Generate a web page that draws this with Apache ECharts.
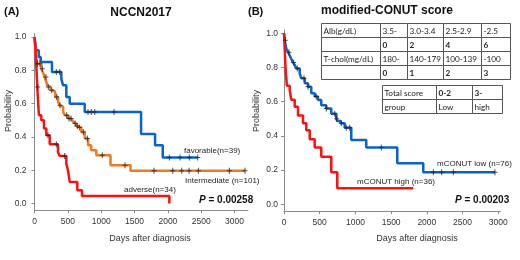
<!DOCTYPE html>
<html><head><meta charset="utf-8">
<script src="https://cdn.jsdelivr.net/npm/echarts@6/dist/echarts.min.js"></script>
<style>html,body{margin:0;padding:0;background:#fff}#c{width:520px;height:260px}</style>
</head><body><div id="c"></div>
<script>
// ---------- data ----------
const xTicksA = [0, 500, 1000, 1500, 2000, 2500, 3000];
const xTicksB = [0, 500, 1000, 1500, 2000, 2500, 3000];
const yTicks = [0, 0.2, 0.4, 0.6, 0.8, 1.0];

// Panel A: NCCN2017
const favDays = [0, 27, 63, 93, 262, 402, 428, 477, 528, 753, 1598, 1808, 1923, 2448];
const favSurv = [1.0, 0.92, 0.88, 0.85, 0.79, 0.75, 0.71, 0.64, 0.60, 0.55, 0.417, 0.35, 0.277, 0.277];
const favCens = [327, 378, 802, 852, 903, 1193, 2022, 2183, 2322, 2448];

const intDays = [0, 8, 15, 25, 37, 100, 128, 150, 177, 190, 203, 240, 278, 310, 353, 380, 402, 430, 453, 500, 552, 580, 603, 627, 653, 702, 753, 803, 850, 927, 1140, 1440, 3157];
const intSurv = [1.0, 0.96, 0.92, 0.88, 0.84, 0.81, 0.786, 0.76, 0.73, 0.71, 0.70, 0.68, 0.67, 0.64, 0.61, 0.59, 0.58, 0.55, 0.53, 0.51, 0.50, 0.49, 0.48, 0.465, 0.457, 0.43, 0.39, 0.35, 0.32, 0.29, 0.23, 0.197, 0.197];
const intCens = [42, 82, 117, 172, 207, 258, 333, 382, 483, 518, 547, 608, 642, 672, 732, 792, 1017, 1357, 1792, 2073, 2208, 2318, 2457, 2922, 3157];

const advDays = [0, 12, 20, 28, 35, 42, 50, 58, 67, 102, 142, 177, 228, 352, 378, 477, 502, 528, 642, 712, 2022];
const advSurv = [1.0, 0.94, 0.88, 0.82, 0.76, 0.70, 0.64, 0.58, 0.53, 0.50, 0.45, 0.41, 0.356, 0.31, 0.285, 0.24, 0.20, 0.13, 0.08, 0.045, 0.0];
const advCens = [48, 202, 327, 453];

// Panel B: modified-CONUT
const lowDays = [0, 10, 32, 56, 80, 102, 126, 150, 172, 220, 242, 290, 336, 382, 430, 476, 522, 592, 662, 732, 746, 794, 850, 942, 1152, 1586, 1950, 2954];
const lowSurv = [1.0, 0.96, 0.91, 0.89, 0.87, 0.85, 0.83, 0.815, 0.795, 0.766, 0.737, 0.708, 0.688, 0.649, 0.63, 0.61, 0.58, 0.56, 0.53, 0.50, 0.487, 0.474, 0.448, 0.376, 0.333, 0.24, 0.187, 0.187];
const lowCens = [19, 70, 135, 186, 280, 336, 452, 592, 710, 738, 802, 872, 920, 1362, 2091, 2208, 2371, 2954];

const highDays = [0, 3, 6, 9, 12, 15, 18, 21, 25, 30, 35, 40, 80, 102, 150, 196, 266, 312, 360, 430, 522, 662, 746, 1810];
const highSurv = [1.0, 0.972, 0.944, 0.917, 0.889, 0.861, 0.833, 0.806, 0.778, 0.75, 0.722, 0.694, 0.667, 0.611, 0.57, 0.52, 0.474, 0.434, 0.38, 0.333, 0.278, 0.187, 0.094, 0.094];

// Table content
const table1Rows = [
  ["Alb(g/dL)", "3.5-", "3.0-3.4", "2.5-2.9", "-2.5"],
  ["", "0", "2", "4", "6"],
  ["T-chol(mg/dL)", "180-", "140-179", "100-139", "-100"],
  ["", "0", "1", "2", "3"]
];
const table2Rows = [
  ["Total score", "0-2", "3-"],
  ["group", "Low", "high"]
];

// ---------- chart ----------
const FONT = "'Liberation Sans', Arial, sans-serif";
const TFONT = "Lato, 'Open Sans', sans-serif";
const BLUE = '#0A64C8', ORANGE = '#EE7A22', RED = '#FF1010';

function toPairs(d, s) { return d.map((x, i) => [x, s[i]]); }
function survAt(d, s, t) { let p = s[0]; for (let i = 0; i < d.length; i++) { if (d[i] <= t) p = s[i]; } return p; }
function censPairs(d, s, c) { return c.map(t => [t, survAt(d, s, t)]); }

const plus = 'path://M-0.5,-3L0.5,-3L0.5,-0.5L2.5,-0.5L2.5,0.5L0.5,0.5L0.5,3L-0.5,3L-0.5,0.5L-2.5,0.5L-2.5,-0.5L-0.5,-0.5Z';

function xAxis(gi, max, ticks) {
  return {
    type: 'value', gridIndex: gi, min: 0, max: max,
    axisLine: { onZero: false, lineStyle: { color: '#8a8a8a', width: 1 } },
    axisTick: { customValues: ticks, length: 3, lineStyle: { color: '#8a8a8a' } },
    axisLabel: { customValues: ticks, fontSize: 8.5, color: '#333', margin: 7, fontFamily: FONT,
      formatter: v => String(Math.round(v)) },
    splitLine: { show: false }
  };
}
function yAxis(gi, margin) {
  return {
    type: 'value', gridIndex: gi, min: -0.04, max: 1.02,
    axisLine: { onZero: false, show: true, lineStyle: { color: '#8a8a8a', width: 1 } },
    axisTick: { show: true, customValues: yTicks, length: 3, lineStyle: { color: '#8a8a8a' } },
    axisLabel: { customValues: yTicks, fontSize: 8.5, color: '#333', margin: margin, fontFamily: FONT,
      formatter: v => v.toFixed(1) },
    splitLine: { show: false }
  };
}
function line(name, d, s, color, gi) {
  return { type: 'line', name, xAxisIndex: gi, yAxisIndex: gi, step: 'end', data: toPairs(d, s),
    showSymbol: false, symbol: 'none', lineStyle: { color, width: 2.5 }, z: 2, animation: false };
}
function cens(d, s, c, gi) {
  return { type: 'scatter', xAxisIndex: gi, yAxisIndex: gi, data: censPairs(d, s, c),
    symbol: plus, symbolSize: [5, 6], itemStyle: { color: '#222' }, z: 3, animation: false, silent: true };
}

// graphic texts
function txt(text, x, y, opts) {
  return Object.assign({ type: 'text', x, y, silent: true,
    style: Object.assign({ text, fontFamily: FONT, fontSize: 8, fill: '#222', align: 'left', verticalAlign: 'middle' }, opts || {}) });
}
const graphics = [];
graphics.push(txt('(A)', 4, 12, { fontSize: 11, fontWeight: 'bold', fill: '#111' }));
graphics.push(txt('NCCN2017', 141, 13, { fontSize: 12, fontWeight: 'bold', align: 'center', fill: '#111' }));
graphics.push(txt('(B)', 248, 12, { fontSize: 11, fontWeight: 'bold', fill: '#111' }));
graphics.push(txt('modified-CONUT score', 321, 11, { fontSize: 12, fontWeight: 'bold', fill: '#111' }));
graphics.push(txt('favorable(n=39)', 184, 150.5));
graphics.push(txt('Intermediate (n=101)', 185, 181));
graphics.push(txt('adverse(n=34)', 124, 190));
graphics.push(txt('mCONUT low (n=76)', 437, 163.3));
graphics.push(txt('mCONUT high (n=36)', 357, 181.7));
const pRich = { p: { fontStyle: 'italic', fontWeight: 'bold', fontSize: 10, fontFamily: FONT, fill: '#111' },
                b: { fontWeight: 'bold', fontSize: 10, fontFamily: FONT, fill: '#111' } };
graphics.push(txt('{p|P}{b| = 0.00258}', 199, 200.7, { rich: pRich }));
graphics.push(txt('{p|P}{b| = 0.00203}', 455, 200.7, { rich: pRich }));
graphics.push(txt('Days after diagnosis', 150, 238.5, { fontSize: 9, align: 'center', fill: '#333' }));
graphics.push(txt('Days after diagnosis', 417, 238.5, { fontSize: 9, align: 'center', fill: '#333' }));
graphics.push({ type: 'text', x: 8.5, y: 111, rotation: Math.PI / 2, silent: true,
  style: { text: 'Probability', fontFamily: FONT, fontSize: 9, fill: '#333', align: 'center', verticalAlign: 'middle' } });
graphics.push({ type: 'text', x: 257, y: 111, rotation: Math.PI / 2, silent: true,
  style: { text: 'Probability', fontFamily: FONT, fontSize: 9, fill: '#333', align: 'center', verticalAlign: 'middle' } });

// tables
function table(rows, xs, ys, boldFn) {
  for (let r = 0; r < rows.length; r++) {
    for (let c = 0; c < rows[r].length; c++) {
      graphics.push({ type: 'rect', silent: true, z: 10,
        shape: { x: xs[c] + 0.5, y: ys[r] + 0.5, width: xs[c + 1] - xs[c], height: ys[r + 1] - ys[r] },
        style: { fill: '#fff', stroke: '#555', lineWidth: 1 } });
      if (rows[r][c] !== '') {
        graphics.push({ type: 'text', silent: true, z: 11, x: xs[c] + 2.5, y: (ys[r] + ys[r + 1]) / 2 + 1,
          style: { text: rows[r][c], fontFamily: TFONT, fontSize: 8.2, fill: '#222',
            fontWeight: boldFn(r, c) ? 'bold' : 'normal', align: 'left', verticalAlign: 'middle' } });
      }
    }
  }
}
table(table1Rows, [321, 380, 407, 443, 481, 510], [23, 37, 51, 65, 79], (r, c) => (r === 1 || r === 3));
table(table2Rows, [382, 436, 472, 502], [85, 99, 113], (r, c) => (r === 0 && c > 0));

const chart = echarts.init(document.getElementById('c'), null, { renderer: 'canvas' });
chart.setOption({
  animation: false,
  backgroundColor: '#fff',
  grid: [
    { left: 34.5, top: 33.7, width: 213.4, height: 176.5 },
    { left: 284, top: 29.9, width: 216.4, height: 181.3 }
  ],
  xAxis: [xAxis(0, 3200, xTicksA), xAxis(1, 3030, xTicksB)],
  yAxis: [yAxis(0, 8), yAxis(1, 6)],
  series: [
    line('favorable', favDays, favSurv, BLUE, 0),
    line('intermediate', intDays, intSurv, ORANGE, 0),
    line('adverse', advDays, advSurv, RED, 0),
    cens(favDays, favSurv, favCens, 0),
    cens(intDays, intSurv, intCens, 0),
    cens(advDays, advSurv, advCens, 0),
    line('mCONUT low', lowDays, lowSurv, BLUE, 1),
    line('mCONUT high', highDays, highSurv, RED, 1),
    cens(lowDays, lowSurv, lowCens, 1)
  ],
  graphic: graphics
});
</script></body></html>
